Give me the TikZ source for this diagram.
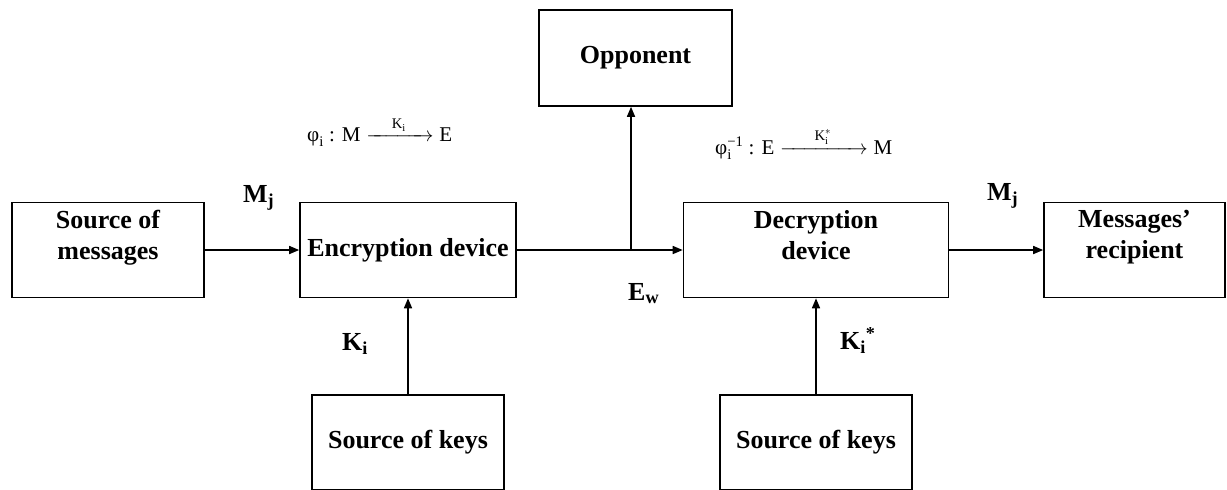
\documentclass[tikz,border=0pt]{standalone}
\usepackage{amsmath}
\usepackage{fontspec}
\setmainfont{Liberation Serif}
\usetikzlibrary{arrows.meta,%
                petri}

\begin{document}
\begin{tikzpicture}[x=1pt,y=-1pt,>={Triangle[length=10pt,width=8pt]}]
		\useasboundingbox (0,0) rectangle (1227,490);
		\tikzset{BoxStyle/.style = {draw=black,shape=rectangle,line width=1.6pt,align=center,inner sep=0pt,font=\fontsize{26}{31}\selectfont\bfseries}}
		\tikzset{LabelStyle/.style = {inner sep=0pt,anchor=base west,font=\fontsize{26}{31}\selectfont\bfseries}}
		% main line
		\node[BoxStyle,minimum width=192pt,minimum height=95pt] (SM) at (108,250) {Source of\\messages\\~};
		\node[BoxStyle,minimum width=216pt,minimum height=95pt] (ED) at (408,250) {\raisebox{-5pt}{Encryption device}};
		\node[BoxStyle,minimum width=265pt,minimum height=95pt] (DD) at (816,250) {Decryption\\device\\~};
		\node[BoxStyle,minimum width=181pt,minimum height=95pt] (MR) at (1134.5,250) {Messages’\\recipient\\~};
		{
			\tikzset{BoxStyle/.append style = {minimum width=193pt,minimum height=96pt}}
			\node[BoxStyle] (OP) at (635.5,58) {\raisebox{-6pt}{Opponent}};
		}
		{
			\tikzset{BoxStyle/.append style = {minimum width=192pt,minimum height=95pt}}
			\node[BoxStyle] (K1) at (408,442.5) {\raisebox{-4pt}{Source of keys}};
			\node[BoxStyle] (K2) at (816,442.5) {\raisebox{-4pt}{Source of keys}};
		}
		\coordinate (W) at (631,250);
		% labels
		\node[LabelStyle] (Mj1) at (243,202) {M\textsubscript{j}};
		\node[LabelStyle] (Mj2) at (987,200) {M\textsubscript{j}};
		\node[LabelStyle] (Ew) at (628,300) {E\textsubscript{w}};
		\node[LabelStyle] (Ki1) at (342,350) {K\textsubscript{i}};
		\node[LabelStyle] (Ki2) at (840,349) {K\textsubscript{i}\textsuperscript{*}};
		{
			\tikzset{LabelStyle/.append style = {font=\fontsize{21}{25}\selectfont}}
			\node[LabelStyle] (F1) at (307,141) {$\text{φ}_{\text{i}}\text{ : M}\xrightarrow{\hspace{21pt}\text{K}_{\text{i}}\hspace{21pt}}\text{E}$};
			\node[LabelStyle] (F2) at (715,154) {$\text{φ}_{\text{i}}^{\text{−1}}\text{ : E}\xrightarrow{\hspace{30pt}\text{K}_{\text{i}}^{*}\hspace{30pt}}\text{M}$};
		}
		\tikzstyle{EdgeStyle}=[->,line width=1.6pt]
		\draw[EdgeStyle] (SM) -- (ED);
		\draw[EdgeStyle] (ED) -- (DD);
		\draw[EdgeStyle] (DD) -- (MR);
		\draw[EdgeStyle] (W) -- (W |- OP.south);
		\draw[EdgeStyle] (K1) -- (ED);
		\draw[EdgeStyle] (K2) -- (DD);
		%\draw[EdgeStyle] (OP) -- (DD);
	\end{tikzpicture}
\end{document}
